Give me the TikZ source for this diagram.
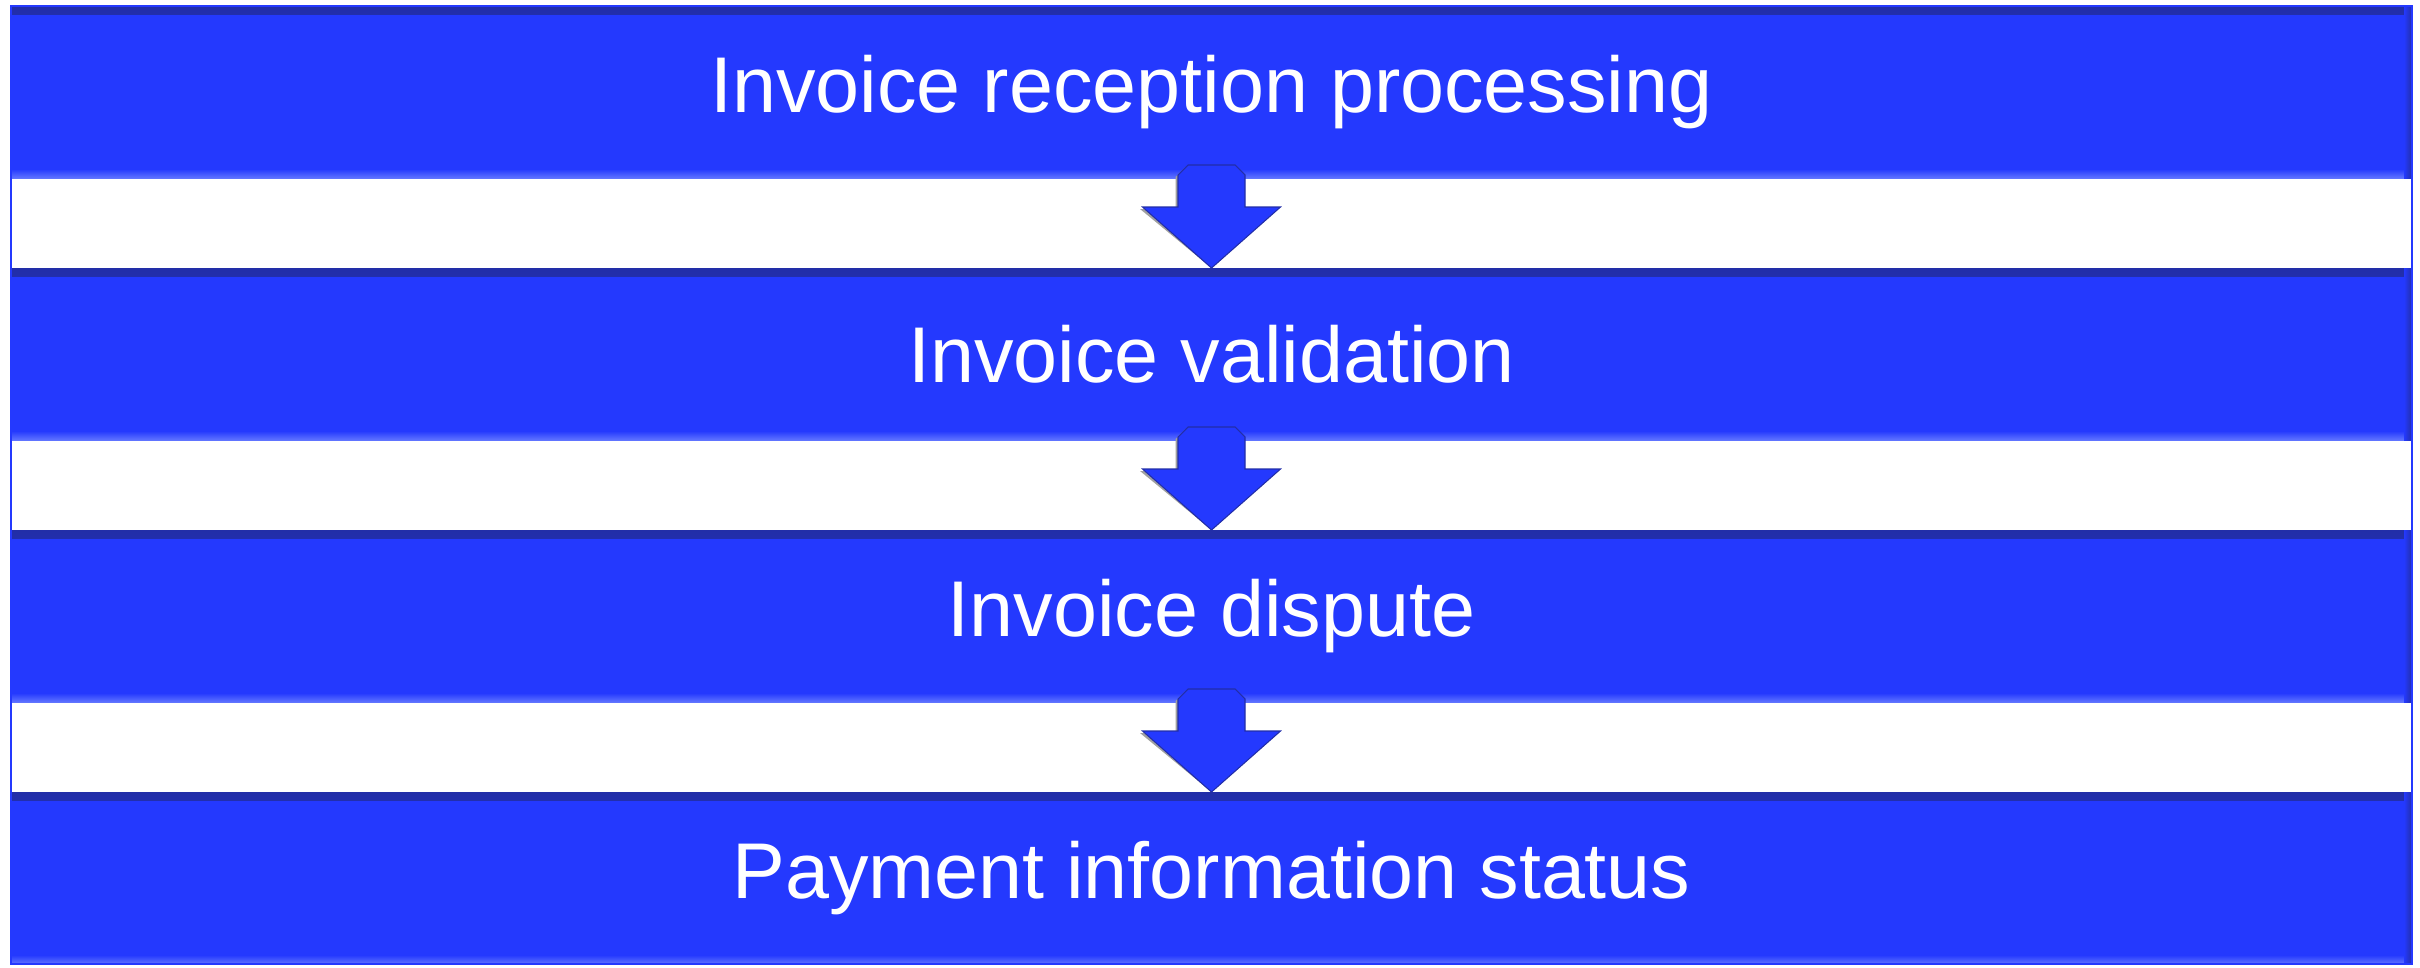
\documentclass[tikz,border=0pt]{standalone}
\usepackage{fontspec}
\setmainfont{Liberation Sans}
\usepackage{tikz}
\usetikzlibrary{arrows.meta, positioning}
\usepackage{xcolor}
\definecolor{procblue}{RGB}{36,57,254}
\definecolor{edgedark}{RGB}{34,46,168}
\definecolor{edgelight}{RGB}{96,116,255}
\definecolor{shadowgrey}{RGB}{160,160,160}

\begin{document}
\begin{tikzpicture}[
    node distance=0.9cm,
    every node/.style={font=\fontsize{22.5}{27}\selectfont},
    stage/.style={fill=procblue, text=white, minimum width=24.01cm, minimum height=1.72cm,
      inner sep=0pt, outer sep=0pt,
      path picture={
        \shade[top color=edgedark, bottom color=procblue]
          (path picture bounding box.north west) rectangle ([yshift=-0.08cm]path picture bounding box.north east);
        \shade[top color=procblue, bottom color=edgelight]
          ([yshift=0.09cm]path picture bounding box.south west) rectangle (path picture bounding box.south east);
        \shade[left color=procblue, right color=edgedark]
          ([xshift=-0.08cm]path picture bounding box.north east) rectangle (path picture bounding box.south east);
      }},
    flow/.style={fill=procblue, draw=edgedark, line width=0.3pt, line join=miter},
    flowshadow/.style={fill=shadowgrey, draw=none},
    frame/.style={draw=procblue, line width=0.6pt}
]
\useasboundingbox (0,0) rectangle (24.2,-9.67);

\node[stage] (rec) at (12.115,-0.92) {Invoice reception processing};
\node[stage, below=of rec] (val) {Invoice validation};
\node[stage, below=of val] (dis) {Invoice dispute};
\node[stage, below=of dis] (pay) {Payment information status};

\draw[frame] (rec.north west) rectangle (pay.south east);

% block arrows between the stages
\foreach \a/\b in {rec/val, val/dis, dis/pay} {
  \fill[flowshadow, shift={(\a.south)}, xshift=-0.025cm, yshift=-0.02cm]
    (-0.235,0.13) -- (0.235,0.13) -- (0.335,0.03) -- (0.335,-0.29) -- (0.69,-0.29)
    -- (\b.north) -- (-0.69,-0.29) -- (-0.335,-0.29) -- (-0.335,0.03) -- cycle;
  \filldraw[flow, shift={(\a.south)}]
    (-0.235,0.13) -- (0.235,0.13) -- (0.335,0.03) -- (0.335,-0.29) -- (0.69,-0.29)
    -- (\b.north) -- (-0.69,-0.29) -- (-0.335,-0.29) -- (-0.335,0.03) -- cycle;
}
\end{tikzpicture}
\end{document}
